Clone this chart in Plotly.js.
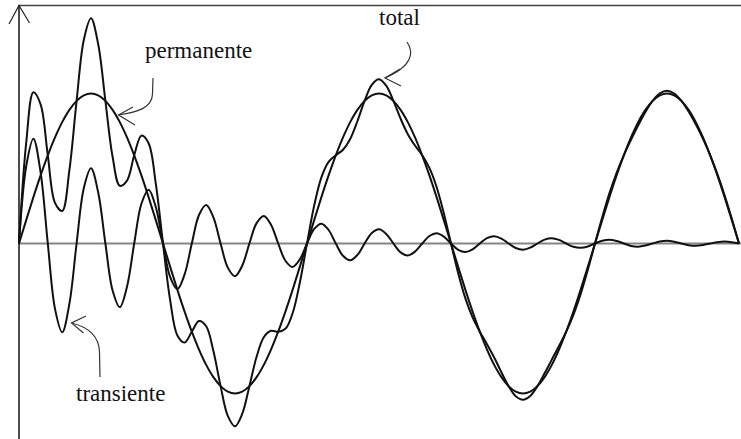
<!DOCTYPE html>
<html>
<head>
<meta charset="utf-8">
<script src="https://cdn.plot.ly/plotly-3.0.1.min.js"></script>
<style>html,body{margin:0;padding:0;background:#fff;}#chart{width:741px;height:439px;}</style>
</head>
<body>
<div id="chart"></div>
<script>
// time in ms (x), values in per-unit of the steady-state amplitude
const tempo = [0,0.5,1,1.5,2,2.5,3,3.5,4,4.5,5,5.5,6,6.5,7,7.5,8,8.5,9,9.5,
  10,10.5,11,11.5,12,12.5,13,13.5,14,14.5,15,15.5,16,16.5,17,17.5,18,18.5,19,19.5,
  20,20.5,21,21.5,22,22.5,23,23.5,24,24.5,25,25.5,26,26.5,27,27.5,28,28.5,29,29.5,
  30,30.5,31,31.5,32,32.5,33,33.5,34,34.5,35,35.5,36,36.5,37,37.5,38,38.5,39,39.5,
  40,40.5,41,41.5,42,42.5,43,43.5,44,44.5,45,45.5,46,46.5,47,47.5,48,48.5,49,49.5,50];

const permanente = [0,0.156,0.309,0.454,0.588,0.707,0.809,0.891,0.951,0.988,
  1,0.988,0.951,0.891,0.809,0.707,0.588,0.454,0.309,0.156,
  0,-0.156,-0.309,-0.454,-0.588,-0.707,-0.809,-0.891,-0.951,-0.988,
  -1,-0.988,-0.951,-0.891,-0.809,-0.707,-0.588,-0.454,-0.309,-0.156,
  0,0.156,0.309,0.454,0.588,0.707,0.809,0.891,0.951,0.988,
  1,0.988,0.951,0.891,0.809,0.707,0.588,0.454,0.309,0.156,
  0,-0.156,-0.309,-0.454,-0.588,-0.707,-0.809,-0.891,-0.951,-0.988,
  -1,-0.988,-0.951,-0.891,-0.809,-0.707,-0.588,-0.454,-0.309,-0.156,
  0,0.156,0.309,0.454,0.588,0.707,0.809,0.891,0.951,0.988,
  1,0.988,0.951,0.891,0.809,0.707,0.588,0.454,0.309,0.156,0];

const transiente = [0,0.515,0.699,0.474,0,-0.436,-0.592,-0.401,0,0.369,
  0.501,0.340,0,-0.313,-0.424,-0.288,0,0.265,0.359,0.243,
  0,-0.224,-0.304,-0.206,0,0.190,0.257,0.174,0,-0.161,
  -0.218,-0.148,0,0.136,0.184,0.125,0,-0.115,-0.156,-0.106,
  0,0.097,0.132,0.090,0,-0.082,-0.112,-0.076,0,0.070,
  0.095,0.064,0,-0.059,-0.080,-0.054,0,0.050,0.068,0.046,
  0,-0.042,-0.057,-0.039,0,0.036,0.049,0.033,0,-0.030,
  -0.041,-0.028,0,0.026,0.035,0.024,0,-0.022,-0.029,-0.020,
  0,0.018,0.025,0.017,0,-0.016,-0.021,-0.014,0,0.013,
  0.018,0.012,0,-0.011,-0.015,-0.010,0,0.009,0.013,0.009,0];

const total = [0,0.671,1.008,0.928,0.588,0.271,0.217,0.490,0.951,1.357,
  1.501,1.328,0.951,0.578,0.385,0.419,0.588,0.719,0.668,0.399,
  0,-0.380,-0.613,-0.660,-0.588,-0.517,-0.552,-0.717,-0.951,-1.149,
  -1.218,-1.136,-0.951,-0.755,-0.625,-0.582,-0.588,-0.569,-0.465,-0.262,
  0,0.253,0.441,0.544,0.588,0.625,0.697,0.815,0.951,1.058,
  1.095,1.052,0.951,0.832,0.729,0.653,0.588,0.504,0.377,0.202,
  0,-0.198,-0.366,-0.493,-0.588,-0.671,-0.760,-0.858,-0.951,-1.018,
  -1.041,-1.016,-0.951,-0.865,-0.774,-0.683,-0.588,-0.476,-0.338,-0.176,
  0,0.174,0.334,0.471,0.588,0.691,0.788,0.877,0.951,1.001,
  1.018,1.000,0.951,0.880,0.794,0.697,0.588,0.463,0.322,0.165,0];

const rotulos = ["permanente", "total", "transiente"];

// ---- layout helpers (pixel -> paper) ----
const W = 741, H = 439;
const px = x => (x / W).toFixed(5);
const py = y => (1 - y / H).toFixed(5);
const P = (x, y) => px(x) + ',' + py(y);

const lineStyle = {color: '#111', width: 2, shape: 'spline', smoothing: 1};
const traces = [
  {x: tempo, y: permanente, name: 'permanente', mode: 'lines', line: lineStyle, hoverinfo: 'skip'},
  {x: tempo, y: transiente, name: 'transiente', mode: 'lines', line: lineStyle, hoverinfo: 'skip'},
  {x: tempo, y: total, name: 'total', mode: 'lines', line: lineStyle, hoverinfo: 'skip'}
];

const arrowLine = {color: '#333', width: 1.2};
const shapes = [
  // x axis (gray)
  {type: 'line', xref: 'paper', yref: 'paper', x0: px(19), x1: 1, y0: py(243.5), y1: py(243.5),
   line: {color: '#858585', width: 2}, layer: 'below'},
  // top frame line
  {type: 'line', xref: 'paper', yref: 'paper', x0: px(19), x1: 1, y0: py(5.5), y1: py(5.5),
   line: {color: '#444', width: 1.5}},
  // y axis
  {type: 'line', xref: 'paper', yref: 'paper', x0: px(19), x1: px(19), y0: py(5), y1: 0,
   line: {color: '#111', width: 1.5}},
  // y axis arrowhead
  {type: 'path', xref: 'paper', yref: 'paper', path: 'M' + P(9, 24) + ' L' + P(19, 5.5) + ' L' + P(29.5, 23),
   line: {color: '#222', width: 1.2}},
  // permanente arrow
  {type: 'path', xref: 'paper', yref: 'paper',
   path: 'M' + P(153, 78) + ' L' + P(152.5, 94) + ' C' + P(152, 108) + ' ' + P(138, 112) + ' ' + P(118.5, 115),
   line: arrowLine},
  {type: 'path', xref: 'paper', yref: 'paper', path: 'M' + P(133, 107) + ' L' + P(118.5, 115) + ' L' + P(135, 125),
   line: arrowLine},
  // total arrow
  {type: 'path', xref: 'paper', yref: 'paper',
   path: 'M' + P(407, 42) + ' C' + P(414, 52) + ' ' + P(413, 66) + ' ' + P(385, 78),
   line: arrowLine},
  {type: 'path', xref: 'paper', yref: 'paper', path: 'M' + P(400, 69) + ' L' + P(385, 78) + ' L' + P(401, 86),
   line: arrowLine},
  // transiente arrow
  {type: 'path', xref: 'paper', yref: 'paper',
   path: 'M' + P(100, 377) + ' L' + P(99.5, 352) + ' C' + P(99, 336) + ' ' + P(88, 327) + ' ' + P(71.5, 323),
   line: arrowLine},
  {type: 'path', xref: 'paper', yref: 'paper', path: 'M' + P(86, 316) + ' L' + P(71.5, 323) + ' L' + P(83.5, 333),
   line: arrowLine}
];

const labelFont = {family: 'Liberation Serif, Times New Roman, serif', size: 23, color: '#111'};
const annotations = [
  {text: rotulos[0], xref: 'paper', yref: 'paper', x: px(198.5), y: py(50), xanchor: 'center', yanchor: 'middle', showarrow: false, font: labelFont},
  {text: rotulos[1], xref: 'paper', yref: 'paper', x: px(399.7), y: py(18), xanchor: 'center', yanchor: 'middle', showarrow: false, font: labelFont},
  {text: rotulos[2], xref: 'paper', yref: 'paper', x: px(120.5), y: py(393), xanchor: 'center', yanchor: 'middle', showarrow: false, font: labelFont}
];

const axisCommon = {showgrid: false, zeroline: false, showticklabels: false, showline: false, ticks: '', fixedrange: true};
const layout = {
  width: W, height: H,
  margin: {l: 0, r: 0, t: 0, b: 0, pad: 0},
  paper_bgcolor: '#fff', plot_bgcolor: '#fff',
  showlegend: false,
  xaxis: Object.assign({range: [-19 / 14.4, (741 - 19) / 14.4]}, axisCommon),
  yaxis: Object.assign({range: [-(439 - 243.5) / 150, 243.5 / 150]}, axisCommon),
  shapes: shapes,
  annotations: annotations
};

Plotly.newPlot('chart', traces, layout, {displayModeBar: false, staticPlot: true});
</script>
</body>
</html>
